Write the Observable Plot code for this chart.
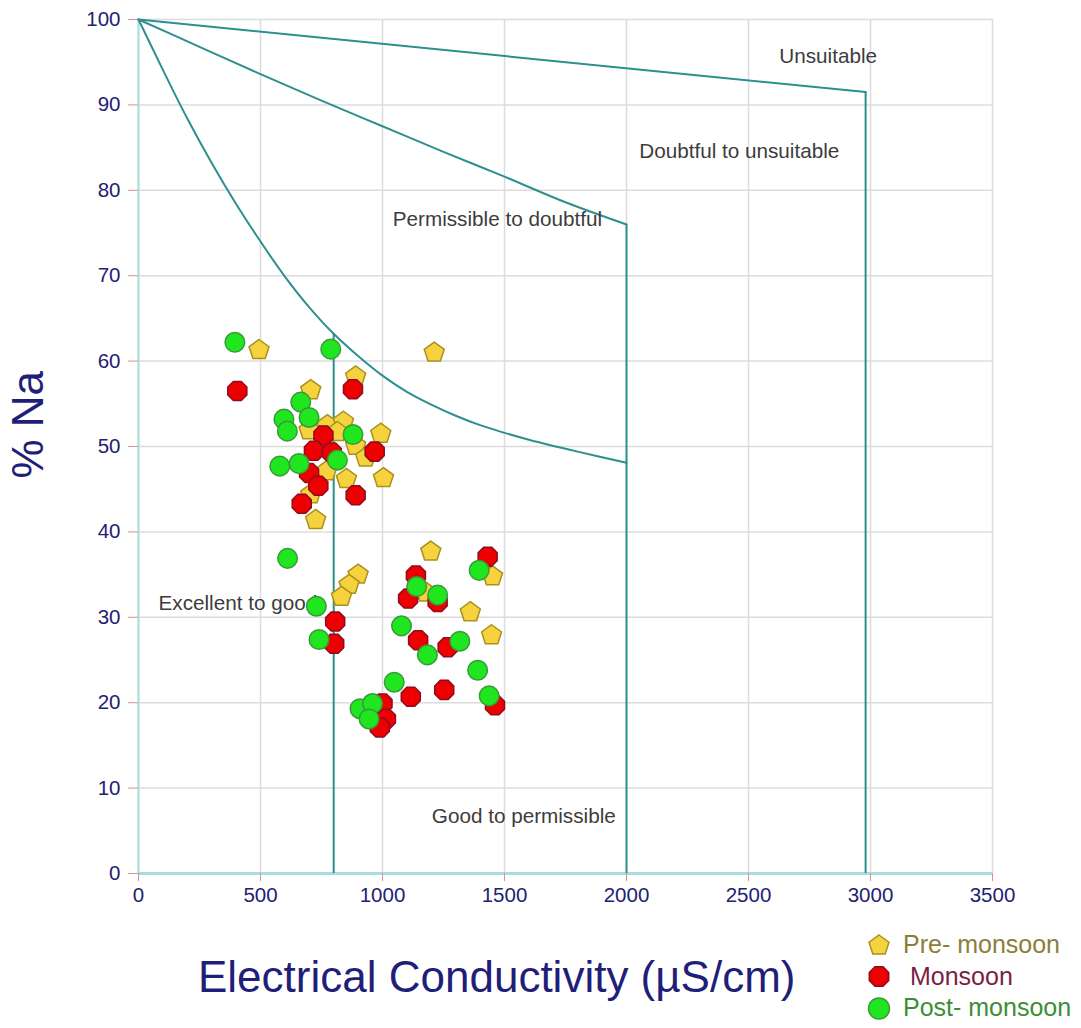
<!DOCTYPE html>
<html><head><meta charset="utf-8">
<script src="https://cdn.jsdelivr.net/npm/d3@7"></script>
<script src="https://cdn.jsdelivr.net/npm/@observablehq/plot@0.6"></script>
<style>
body{margin:0;background:#fff;font-family:"Liberation Sans",Arial,sans-serif;}
#wrap{width:1081px;position:relative;}
#below{position:relative;height:103px;}
#xtitle{position:absolute;left:198px;top:30px;font-size:44px;line-height:44px;color:#1f1f7a;white-space:nowrap;}
#legend{position:absolute;left:866px;top:4px;font-size:25px;}
.row{height:31.5px;line-height:31.5px;white-space:nowrap;display:flex;align-items:center;}
.row svg{margin-right:11px;}
</style></head><body>
<div id="wrap"><div id="chart"></div><div id="below"><div id="xtitle">Electrical Conductivity (µS/cm)</div><div id="legend"></div></div></div>
<script>
// ---- Data ----
const preEC  = [494,1212,890,706,699,774,840,815,993,890,931,771,852,1004,706,726,1198,1451,900,863,832,1178,1360,1447];
const preNa  = [61.3,61.0,58.2,56.6,51.9,52.5,52.9,51.7,51.5,50.1,48.7,47.1,46.2,46.3,44.4,41.4,37.7,34.8,35.0,33.8,32.4,32.9,30.6,27.9];
const monEC  = [405,879,758,719,792,968,699,737,890,669,1431,806,802,1137,1105,1226,1146,1267,1116,1253,1461,1000,1014,989];
const monNa  = [56.5,56.7,51.3,49.5,49.3,49.4,46.9,45.4,44.3,43.3,37.1,29.5,26.9,34.9,32.2,31.8,27.3,26.5,20.7,21.5,19.7,19.9,18.1,17.1];
const postEC = [395,788,665,596,699,610,879,579,658,815,1396,611,729,740,1140,1226,1078,1184,1317,1390,1048,1437,908,959,945];
const postNa = [62.2,61.4,55.2,53.2,53.4,51.8,51.4,47.7,48.0,48.4,35.5,36.9,31.3,27.4,33.6,32.6,29.0,25.6,27.2,23.8,22.4,20.8,19.3,19.9,18.1];

// Wilcox boundary curves
const curve1EC = [0,100,200,300,400,500,600,700,800,900,1000,1100,1200,1300,1400,1500,1600,1800,2000];
const curve1Na = [100,94.1,88.4,83.2,78.4,74.0,69.9,66.3,63.2,60.6,58.3,56.4,54.9,53.6,52.5,51.6,50.8,49.4,48.1];
const curve2EC = [0,250,500,750,1000,1250,1500,1750,2000];
const curve2Na = [100,96.8,93.6,90.5,87.5,84.5,81.6,78.6,76];
const curve3EC = [0,2980];
const curve3Na = [100,91.5];
const vertEC = [800,2000,2980];
const vertNa = [63.2,76,91.5];

const zoneLabels = ["Unsuitable","Doubtful to unsuitable","Permissible to doubtful","Excellent to good","Good to permissible"];
const zoneEC = [2626,2052,1042,82,1202];
const zoneNa = [95.7,84.5,76.6,31.6,6.7];

const xTicks = [0,500,1000,1500,2000,2500,3000,3500];
const yTicks = [0,10,20,30,40,50,60,70,80,90,100];

const seriesNames = ["Pre- monsoon"," Monsoon","Post- monsoon"];
const seriesFill = ["#f6d23e","#ee0000","#1fe61f"];
const seriesStroke = ["#a8921c","#8e0b22","#3a9a3a"];
const seriesText = ["#8c7e3a","#7a1f3f","#3b8e35"];

// ---- helpers ----
const zip = (xs, ys) => xs.map((x, i) => ({x, y: ys[i]}));
function polygonSymbol(n, rot) {
  return {draw(ctx, size) {
    const r = Math.sqrt(size / Math.PI);
    for (let i = 0; i < n; ++i) {
      const a = rot + 2 * Math.PI * i / n;
      const px = r * Math.sin(a), py = -r * Math.cos(a);
      if (i) ctx.lineTo(px, py); else ctx.moveTo(px, py);
    }
    ctx.closePath();
  }};
}
const pentagon = polygonSymbol(5, 0);
const octagon = polygonSymbol(8, Math.PI / 8);
const symbols = [pentagon, octagon, d3.symbolCircle];
const radii = [10.5, 10.3, 9.8];

const teal = "#2e8f8f";
const lineOpts = {x: "x", y: "y", stroke: teal, strokeWidth: 2, curve: "catmull-rom"};

const chart = Plot.plot({
  width: 1081, height: 925,
  marginLeft: 138, marginRight: 89, marginTop: 19, marginBottom: 52,
  x: {domain: [0, 3500]},
  y: {domain: [0, 100]},
  style: {fontFamily: "'Liberation Sans', Arial, sans-serif", background: "white", overflow: "visible"},
  marks: [
    Plot.gridX(xTicks, {stroke: "#dcdcdc", strokeOpacity: 1, strokeWidth: 1.5}),
    Plot.gridY(yTicks, {stroke: "#dcdcdc", strokeOpacity: 1, strokeWidth: 1.5}),
    Plot.ruleX([0], {stroke: "#a6dede", strokeWidth: 2}),
    Plot.ruleY([0], {stroke: "#a6dede", strokeWidth: 3}),
    Plot.axisX(xTicks, {tickSize: 8, tickPadding: 6, stroke: "#d99090", fill: "#222274", fontSize: 20.5, label: null, tickFormat: d => String(d)}),
    Plot.axisY(yTicks, {tickSize: 10, tickPadding: 8, stroke: "#d99090", fill: "#222274", fontSize: 20.5, label: null, tickFormat: d => String(d)}),
    Plot.line(zip(curve1EC, curve1Na), lineOpts),
    Plot.line(zip(curve2EC, curve2Na), lineOpts),
    Plot.line(zip(curve3EC, curve3Na), {...lineOpts, curve: "linear"}),
    Plot.ruleX(zip(vertEC, vertNa), {x: "x", y1: 0, y2: "y", stroke: teal, strokeWidth: 2}),
    Plot.text(zoneLabels.map((t, i) => ({t, x: zoneEC[i], y: zoneNa[i]})), {x: "x", y: "y", text: "t", textAnchor: "start", fontSize: 20.7, fill: "#3c3c3c"}),
    ...[[preEC, preNa], [monEC, monNa], [postEC, postNa]].map(([xs, ys], k) =>
      Plot.dot(zip(xs, ys), {x: "x", y: "y", symbol: symbols[k], r: radii[k], fill: seriesFill[k], stroke: seriesStroke[k], strokeWidth: 1.5})
    ),
    Plot.text(["% Na"], {frameAnchor: "left", rotate: -90, dx: -110, dy: 32, fontSize: 44, fill: "#1f1f7a"})
  ]
});
document.getElementById("chart").appendChild(chart);

// ---- legend ----
const legend = d3.select("#legend");
seriesNames.forEach((name, k) => {
  const row = legend.append("div").attr("class", "row");
  const svg = row.append("svg").attr("width", 26).attr("height", 26);
  const sym = d3.symbol(symbols[k], Math.PI * 10.5 * 10.5);
  svg.append("path").attr("transform", "translate(13,13.5)").attr("d", sym())
    .attr("fill", seriesFill[k]).attr("stroke", seriesStroke[k]).attr("stroke-width", 1.5);
  row.append("span").style("color", seriesText[k]).style("white-space", "pre").text(name);
});
</script>
</body></html>
